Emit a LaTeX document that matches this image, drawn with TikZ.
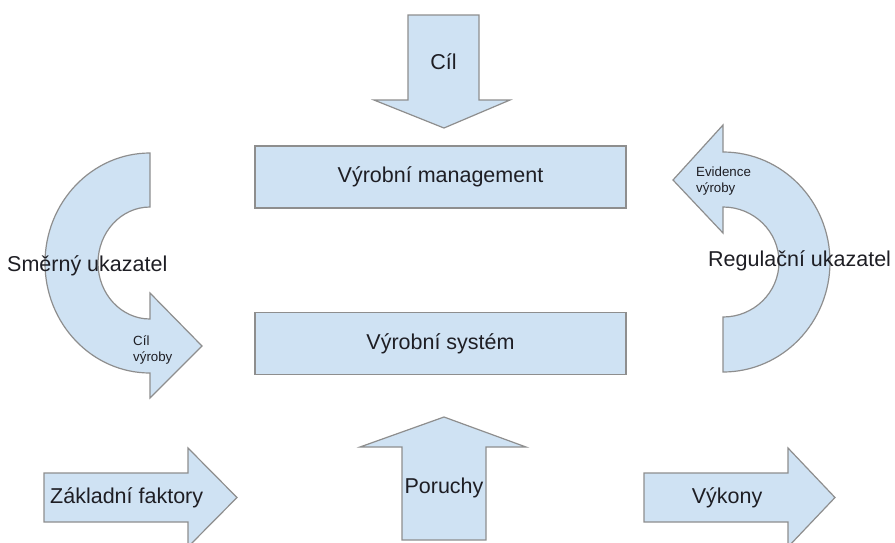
\documentclass[tikz,border=0pt]{standalone}
\usepackage{fontspec}
\setmainfont{Liberation Sans}
\definecolor{paleblue}{HTML}{CFE2F3}
\definecolor{edgegray}{HTML}{8E8E8E}
\definecolor{inkdark}{HTML}{1E1E24}
\begin{document}
\begin{tikzpicture}[x=1pt,y=-1pt,
  shapefill/.style={fill=paleblue,draw=edgegray,line width=1.2pt,line join=miter},
  bigtext/.style={text=inkdark,font=\fontsize{21.5}{25}\selectfont,inner sep=0pt},
  smalltext/.style={text=inkdark,font=\fontsize{13.3}{16.5}\selectfont,inner sep=0pt,align=left},
  panel/.style={shapefill,minimum width=371pt,minimum height=62pt,inner sep=0pt}]
\useasboundingbox (0,0) rectangle (895,542);
\clip (0,0) rectangle (895,542);

% blocks
\node[panel] (mgmt) at (440.5,177) {};
\node[panel] (sys)  at (440.5,343.5) {};
\node[bigtext] (mgmtlabel) at (mgmt.center) {Výrobní management};
\node[bigtext] (syslabel)  at (sys.center)  {Výrobní systém};

% goal arrow pointing down
\draw[shapefill] (408,15) -- (479,15) -- (479,100) -- (510,100) -- (444,128)
  -- (374,100) -- (408,100) -- cycle;
\node[bigtext] (goal) at (443.5,62) {Cíl};

% disturbances arrow pointing up
\draw[shapefill] (402,540) -- (402,447) -- (360,447) -- (444,417) -- (526,447)
  -- (486,447) -- (486,540) -- cycle;
\node[bigtext] (faults) at (444,488) {Poruchy};

% inputs arrow
\draw[shapefill] (44,473) -- (188,473) -- (188,448) -- (237,497.5) -- (188,547)
  -- (188,522) -- (44,522) -- cycle;
\node[bigtext,anchor=west] (inputs) at (50,498) {Základní faktory};

% outputs arrow
\draw[shapefill] (644,473) -- (788,473) -- (788,448) -- (835,497.5) -- (788,547)
  -- (788,522) -- (644,522) -- cycle;
\node[bigtext] (outputs) at (727,498) {Výkony};

% curved arrow on the left
\draw[shapefill] (150,153)
  arc[start angle=-90,end angle=-270,x radius=105,y radius=110]
  -- (150,398) -- (202,346) -- (150,293) -- (150,319)
  arc[start angle=90,end angle=270,x radius=52,y radius=56]
  -- cycle;
\node[bigtext,anchor=west] (guide) at (7,266) {Směrný ukazatel};
\node[smalltext,anchor=west] (target) at (133,350) {Cíl\\výroby};

% curved arrow on the right
\draw[shapefill] (723,372)
  arc[start angle=90,end angle=-90,x radius=107,y radius=110]
  -- (723,125) -- (673,180) -- (723,233) -- (723,207)
  arc[start angle=-90,end angle=90,x radius=56,y radius=55]
  -- cycle;
\node[bigtext,anchor=west] (control) at (708,261) {Regulační ukazatel};
\node[smalltext,anchor=west] (records) at (696,181) {Evidence\\výroby};
\end{tikzpicture}
\end{document}
